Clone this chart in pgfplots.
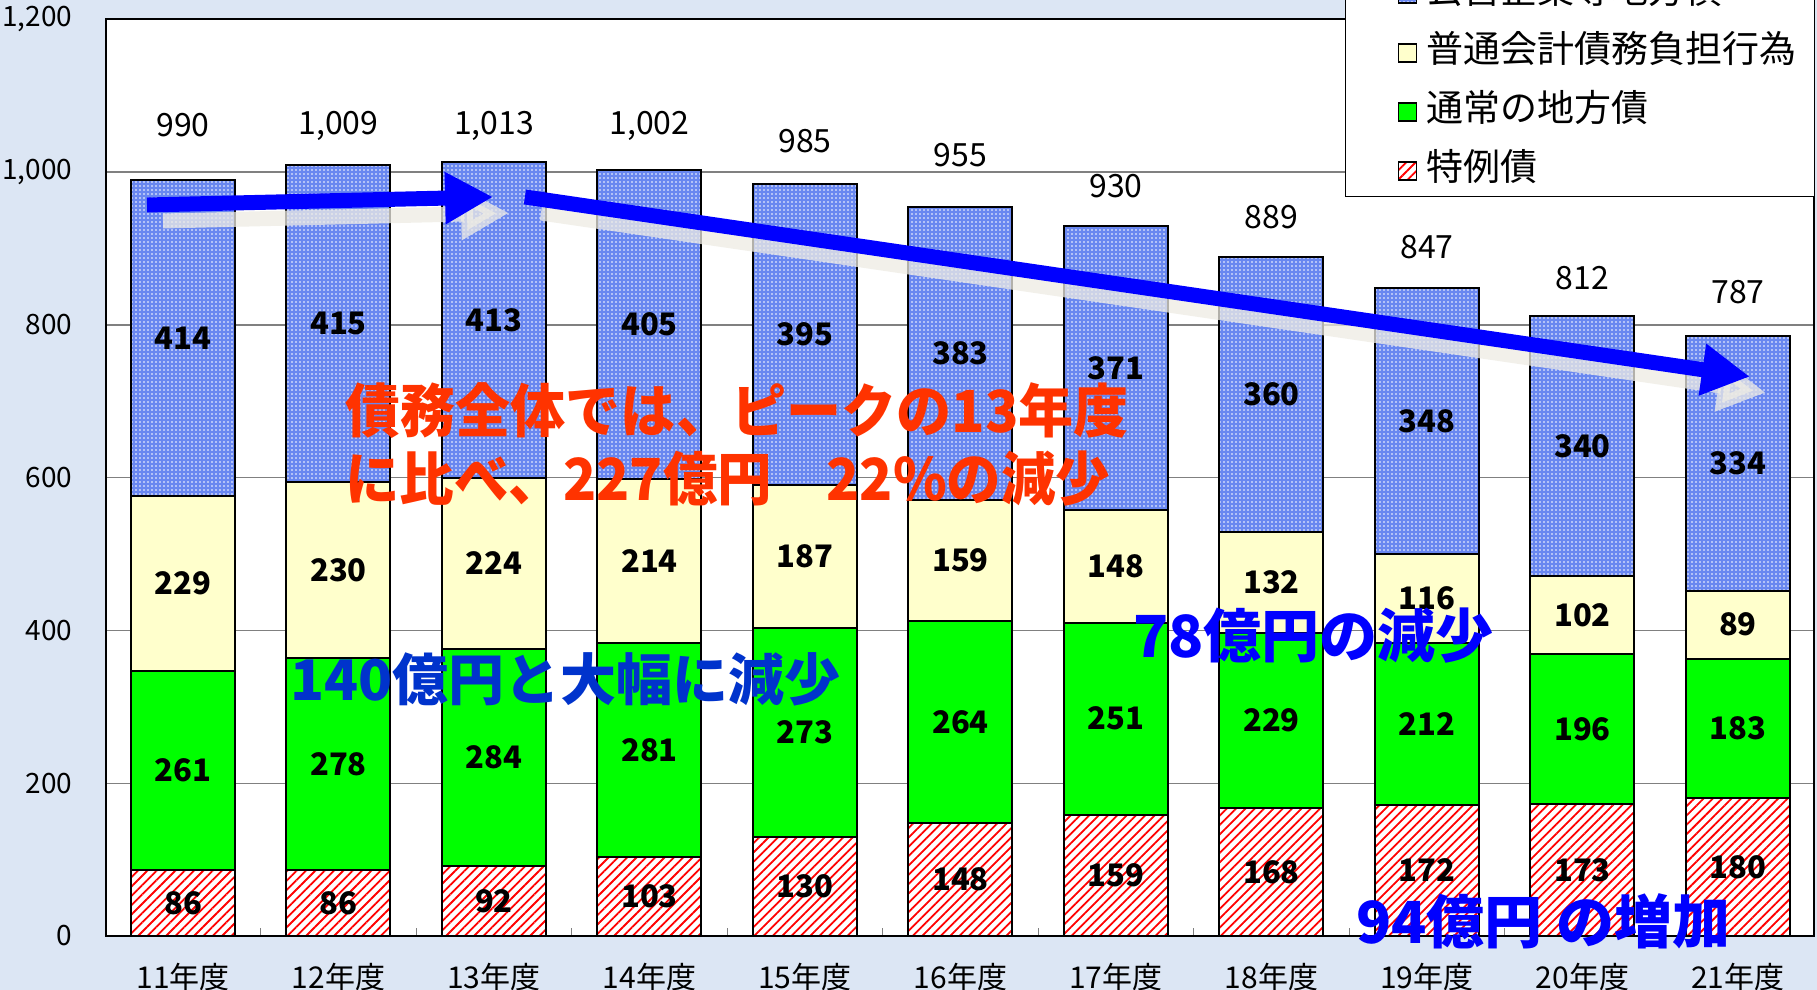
\documentclass[border=0pt]{standalone}
\usepackage{fontspec}
\setmainfont{Noto Sans CJK JP}
\usepackage{pgfplots}
\pgfplotsset{compat=1.18}
\usepackage{pgfplotstable}
\usetikzlibrary{patterns,patterns.meta,arrows.meta}
\pgfkeys{/pgf/number format/.cd, assume math mode=true, 1000 sep={,}}

\definecolor{bgblue}{RGB}{220,230,244}
\definecolor{segblue}{RGB}{105,135,240}
\definecolor{segyellow}{RGB}{255,255,204}
\definecolor{seggreen}{RGB}{0,255,0}
\definecolor{annred}{RGB}{255,51,0}
\definecolor{annblue}{RGB}{0,51,204}
\definecolor{purblue}{RGB}{0,0,255}
\definecolor{shadowc}{RGB}{238,236,228}
\definecolor{gridgray}{RGB}{128,128,128}

\newcommand\segfont{\bfseries\fontsize{15.5}{16}\selectfont}
\newcommand\totfont{\fontsize{16}{18}\selectfont}

\pgfplotstableread{
x tok tsu fut kig
0 86 261 229 414
1 86 278 230 415
2 92 284 224 413
3 103 281 214 405
4 130 273 187 395
5 148 264 159 383
6 159 251 148 371
7 168 229 132 360
8 172 212 116 348
9 173 196 102 340
10 180 183 89 334
}\bartable

\pgfplotstableread{
x y t
0 1061 990
1 1061 1009
2 1060 1013
3 1061 1002
4 1040 985
5 1022 955
6 982 930
7 941 889
8 902 847
9 861 812
10 843 787
}\totaltable

\pgfplotsset{
  commonaxis/.style={
    scale only axis, width=853.5pt, height=458.35pt,
    at={(53.25pt,27pt)}, anchor=south west,
    xmin=-0.492, xmax=10.486, ymin=0, ymax=1200,
  },
  midlabel/.style={
    nodes near coords,
    point meta=\thisrow{#1},
    every node near coord/.style={anchor=center, text=black, font=\segfont, inner sep=0pt},
  },
  myleg/.style={legend image code/.code={
     \path (0pt,0pt) (30.5pt,0pt);
     \draw[##1,draw=black,line width=0.8pt] (17pt,-4.5pt) rectangle (26pt,4.5pt);}},
}

\begin{document}
\begin{tikzpicture}
\useasboundingbox (0,0) rectangle (908.5pt,495pt);
\fill[bgblue] (0,0) rectangle (908.5pt,495pt);
\clip (0,0) rectangle (908.5pt,495pt);

\begin{axis}[commonaxis,
  ybar stacked, bar width=52pt,
  axis background/.style={fill=white},
  axis line style={black, line width=1pt},
  ymajorgrids, grid style={gridgray, line width=0.7pt},
  ytick={0,200,...,1200},
  xtick={0,...,10},
  xticklabels={11年度,12年度,13年度,14年度,15年度,16年度,17年度,18年度,19年度,20年度,21年度},
  minor xtick={0.5,1.5,...,9.5},
  major tick length=0pt, minor tick length=4pt,
  tick align=inside, xtick pos=left, ytick pos=left,
  minor tick style={gridgray, line width=0.6pt},
  yticklabel style={anchor=east, inner sep=0pt, xshift=-17pt, font=\fontsize{14}{16}\selectfont},
  xticklabel style={anchor=center, inner sep=0pt, yshift=-20.5pt, font=\fontsize{15}{16}\selectfont},
  reverse legend,
  legend cell align=left,
  legend style={at={(1.001,0.806)}, anchor=south east, draw=black, line width=0.8pt, fill=white,
    font=\fontsize{18.5}{22}\selectfont, inner xsep=9pt, inner ysep=3pt, row sep=10pt, column sep=0pt,
    nodes={inner sep=0pt, text height=14.5pt, text depth=5pt}},
]
\addplot[fill=white, draw=black, line width=1pt,
  postaction={pattern={Lines[angle=45,distance=3.3pt,line width=0.9pt]}, pattern color=red},
  midlabel=tok, myleg] table[x=x,y=tok] {\bartable};
\addplot[fill=seggreen, draw=black, line width=1pt, midlabel=tsu, myleg] table[x=x,y=tsu] {\bartable};
\addplot[fill=segyellow, draw=black, line width=1pt, midlabel=fut, myleg] table[x=x,y=fut] {\bartable};
\addplot[fill=segblue, draw=black, line width=1pt,
  postaction={pattern={Dots[distance=2pt,radius=0.42pt]}, pattern color=white},
  midlabel=kig, myleg] table[x=x,y=kig] {\bartable};
\legend{特例債,通常の地方債,普通会計債務負担行為,公営企業等地方債}
\end{axis}

\begin{axis}[commonaxis, hide axis, clip=false]
\addplot[draw=none, mark=none, nodes near coords, point meta=explicit,
  every node near coord/.style={anchor=center, font=\totfont, text=black}]
  table[x=x,y=y,meta=t] {\totaltable};
% arrow shadows
\draw[shadowc, opacity=0.75, line width=7.5pt, -{Triangle[length=24pt,width=24.5pt]}, xshift=8pt, yshift=-8pt]
  (axis cs:-0.2315,956.9) -- (axis cs:1.994,967.4);
\draw[shadowc, opacity=0.75, line width=7.5pt, -{Triangle[length=24pt,width=24.5pt]}, xshift=8pt, yshift=-8pt]
  (axis cs:2.199,967.4) -- (axis cs:10.077,732.2);
% arrows
\draw[purblue, line width=7.5pt, -{Triangle[length=24pt,width=24.5pt]}]
  (axis cs:-0.2315,956.9) -- (axis cs:1.994,967.4);
\draw[purblue, line width=7.5pt, -{Triangle[length=24pt,width=24.5pt]}]
  (axis cs:2.199,967.4) -- (axis cs:10.077,732.2);
% annotations
\node[anchor=west, inner sep=0pt, text=annred, font=\bfseries\fontsize{29}{30}\selectfont] at (axis cs:1.042,687.2) {\scalebox{0.95}[1]{債務全体では、ピークの13年度}};
\node[anchor=west, inner sep=0pt, text=annred, font=\bfseries\fontsize{29}{30}\selectfont] at (axis cs:1.042,598.2) {\scalebox{0.94}[1]{に比べ、227億円　22\%の減少}};
\node[anchor=west, inner sep=0pt, text=annblue, font=\bfseries\fontsize{28}{30}\selectfont] at (axis cs:0.688,336.4) {140億円と大幅に減少};
\node[anchor=west, inner sep=0pt, text=purblue, font=\bfseries\fontsize{29}{30}\selectfont] at (axis cs:6.109,392.7) {78億円の減少};
\node[anchor=west, inner sep=0pt, text=purblue, font=\bfseries\fontsize{29}{30}\selectfont] at (axis cs:7.543,19.6) {94億円 の増加};
\end{axis}
\end{tikzpicture}
\end{document}
